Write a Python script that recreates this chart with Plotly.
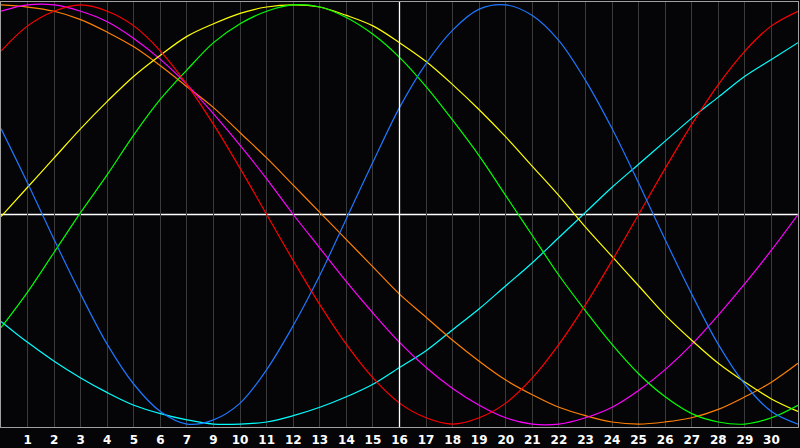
import plotly.graph_objects as go

# Positions along the chart (grid index 0..30)
positions = list(range(31))

# Tick positions and labels (day 8 is absent on the reference axis)
tick_positions = list(range(1, 30))
tick_labels = ["1", "2", "3", "4", "5", "6", "7", "9", "10", "11", "12", "13", "14", "15",
               "16", "17", "18", "19", "20", "21", "22", "23", "24", "25", "26", "27",
               "28", "29", "30"]
today_position = 15

# Cycle values (hundredths)
blue = [41, 15, -12, -38, -62, -81, -94, -100, -98, -90, -74, -53, -29, -2, 25, 51, 72, 88, 98, 100,
        95, 83, 64, 41, 15, -12, -38, -62, -81, -94, -100]
red = [78, 90, 97, 100, 97, 90, 78, 62, 43, 22, 0, -22, -43, -62, -78, -90, -97, -100, -97, -90,
       -78, -62, -43, -22, 0, 22, 43, 62, 78, 90, 97]
green = [-54, -37, -18, 1, 19, 38, 55, 69, 82, 91, 97, 100, 99, 94, 86, 75, 61, 45, 28, 9, -10,
         -29, -46, -62, -76, -87, -95, -99, -100, -97, -91]
yellow = [-1, 13, 27, 41, 54, 66, 76, 85, 91, 96, 99, 100, 99, 95, 90, 82, 73, 62, 50, 37, 23, 9,
          -6, -20, -34, -48, -60, -71, -80, -88, -94]
magenta = [97, 100, 100, 97, 92, 84, 74, 62, 48, 33, 17, 0, -16, -32, -47, -61, -73, -83, -91, -97,
           -100, -100, -97, -92, -84, -74, -62, -48, -33, -17, 0]
orange = [100, 99, 97, 93, 87, 80, 71, 61, 51, 39, 27, 14, 1, -12, -25, -38, -49, -60, -70, -79,
          -86, -92, -96, -99, -100, -99, -97, -93, -87, -80, -71]
cyan = [-51, -61, -70, -78, -85, -91, -95, -98, -100, -100, -99, -96, -92, -87, -81, -73, -65, -55,
        -45, -34, -23, -11, 1, 13, 24, 35, 46, 56, 66, 74, 82]

series = [
    (cyan, "#00ffff"),
    (orange, "#ff8000"),
    (magenta, "#ff00ff"),
    (yellow, "#ffff00"),
    (green, "#00ff00"),
    (red, "#ff0000"),
    (blue, "#1e78ff"),
]

fig = go.Figure()
for vals, col in series:
    fig.add_trace(go.Scatter(
        x=positions, y=[v / 100 for v in vals], mode="lines",
        line=dict(color=col, width=1.2, shape="spline", smoothing=1),
        hoverinfo="skip", showlegend=False,
    ))

# white "today" vertical line and zero line
fig.add_shape(type="line", xref="x", yref="paper", x0=today_position, x1=today_position,
              y0=0, y1=1, line=dict(color="#ffffff", width=1.3), layer="above")
fig.add_shape(type="line", xref="paper", yref="y", x0=0, x1=1, y0=0, y1=0,
              line=dict(color="#ffffff", width=1.5), layer="below")

fig.update_layout(
    width=800, height=448,
    margin=dict(l=1, r=1, t=1, b=20),
    paper_bgcolor="#050508",
    plot_bgcolor="#050508",
    showlegend=False,
    xaxis=dict(
        range=[0, 30], tickmode="array", tickvals=tick_positions, ticktext=tick_labels,
        showgrid=True, gridcolor="#3a3a3a", gridwidth=1, zeroline=False,
        showline=True, linecolor="#a0a0a0", linewidth=1, mirror=True,
        ticks="", ticklabelstandoff=2,
        tickfont=dict(family="DejaVu Sans", size=12, color="#ffffff", weight="bold"),
        fixedrange=True,
    ),
    yaxis=dict(
        range=[-1.014, 1.014], showgrid=False, zeroline=False, showticklabels=False,
        showline=True, linecolor="#a0a0a0", linewidth=1, mirror=True, ticks="",
        fixedrange=True,
    ),
)

fig.write_html(
    "out.html",
    config={"displayModeBar": False},
    post_script="document.body.style.margin='0';document.body.style.background='#050508';",
)
